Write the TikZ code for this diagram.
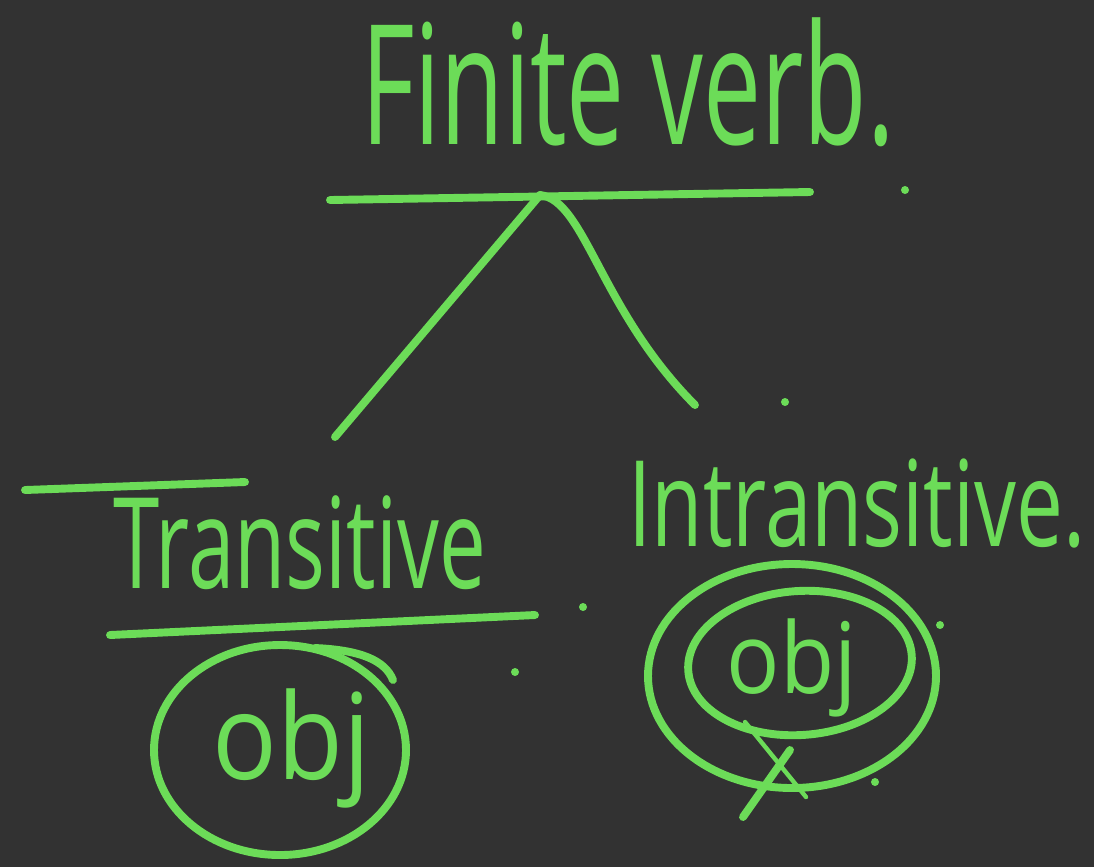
\documentclass[tikz,border=0pt]{standalone}
\usepackage{fontspec}
\setmainfont{Open Sans}
\usepackage{tikz}
\usetikzlibrary{positioning}
\definecolor{board}{RGB}{50,50,50}
\definecolor{chalk}{RGB}{108,220,88}
\tikzset{
    stroke/.style={draw=chalk, line width=4.5pt, line cap=round, line join=round}, % pen lines
    word/.style={text=chalk, inner sep=0pt, transform shape}, % handwritten words
    speck/.style={fill=chalk, draw=none}, % stray dots
}

\begin{document}
\begin{tikzpicture}[x=0.02cm, y=-0.02cm]
    \fill[board] (0,0) rectangle (1094,867);
    \useasboundingbox (0,0) rectangle (1094,867);
    % words
    \node[word, xscale=0.62] (finite) at (628,82) {\fontsize{95}{100}\selectfont Finite verb.};
    \node[word, xscale=0.66] (trans) at (300,543) {\fontsize{72}{76}\selectfont Transitive};
    \node[word, xscale=0.7] (intrans) at (857,503) {\fontsize{68}{72}\selectfont Intransitive.};
    \node[word, xscale=0.9] (objT) at (292,748) {\fontsize{68}{72}\selectfont obj};
    \node[word, xscale=0.9] (objI) at (792,668) {\fontsize{56}{60}\selectfont obj};
    % tree
    \coordinate (barL) at (330,200);
    \coordinate (barR) at (810,192);
    \coordinate (apex) at (540,195);
    \coordinate (legT) at (335,437);
    \coordinate (legI) at (695,405);
    \draw[stroke] (barL) -- (barR);
    \draw[stroke] (apex) -- (legT);
    \draw[stroke] (apex) .. controls (585,200) and (600,310) .. (legI);
    % bars round Transitive
    \coordinate (overL) at (25,490);
    \coordinate (overR) at (245,482);
    \coordinate (underL) at (110,635);
    \coordinate (underR) at (535,615);
    \draw[stroke] (overL) -- (overR);
    \draw[stroke] (underL) -- (underR);
    % rings
    \coordinate (ringT) at (280,750);
    \coordinate (ringO) at (792,676);
    \coordinate (ringI) at (800,663);
    \draw[stroke] (ringT) ellipse [x radius=126, y radius=105];
    \coordinate (tailA) at (315,648);
    \coordinate (tailB) at (393,680);
    \draw[stroke] (tailA) .. controls (360,650) and (385,660) .. (tailB);
    \draw[stroke] (ringO) ellipse [x radius=144, y radius=112];
    \draw[stroke, rotate around={4:(ringI)}] (ringI) ellipse [x radius=112, y radius=72];
    % cross under the rings
    \coordinate (crossA) at (743,817);
    \coordinate (crossB) at (790,750);
    \coordinate (crossC) at (745,722);
    \coordinate (crossD) at (806,797);
    \draw[stroke] (crossA) -- (crossB);
    \draw[stroke, line width=2.5pt] (crossC) -- (crossD);
    % specks
    \foreach \p in {(905,190), (785,402), (583,607), (515,672), (940,625), (875,782)}
        \fill[speck] \p circle (4);
\end{tikzpicture}
\end{document}
